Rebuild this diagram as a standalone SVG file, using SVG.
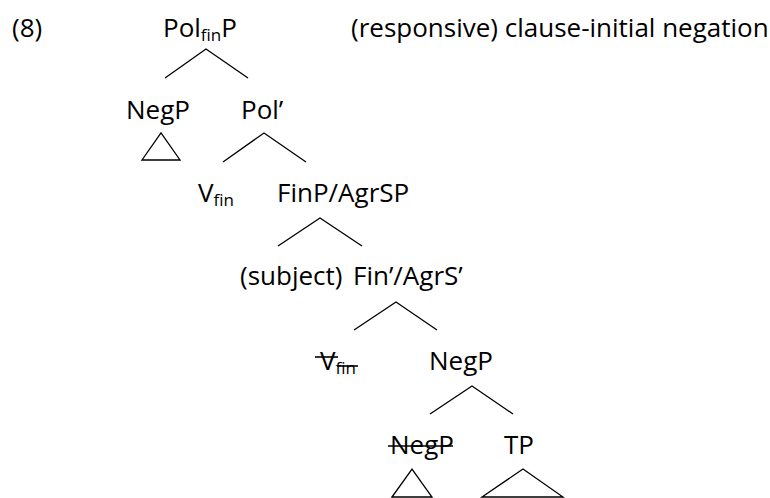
<svg xmlns="http://www.w3.org/2000/svg" width="770" height="498" viewBox="0 0 770 498">
<style>
text{font-family:"Open Sans","Liberation Sans",sans-serif;font-size:26px;fill:#000}
.sub{font-size:17px}
.ln{stroke:#000;stroke-width:1.3;fill:none}
.st{stroke:#000;stroke-width:1.6}
</style>
<rect width="770" height="498" fill="#fff"/>
<g id="label"><text x="12" y="37">(8)</text></g>
<g id="caption"><text x="351" y="37">(responsive) clause-initial negation</text></g>
<g id="polfinP"><text x="163" y="37">Pol<tspan class="sub" dy="4">fin</tspan><tspan dy="-4">P</tspan></text></g>
<g id="negP1"><text x="126" y="119">NegP</text></g>
<g id="polBar"><text x="241" y="119">Pol’</text></g>
<g id="vfin1"><text x="198" y="202">V<tspan class="sub" dy="4">fin</tspan></text></g>
<g id="finP"><text x="277" y="202">FinP/AgrSP</text></g>
<g id="subject"><text x="240" y="285">(subject)</text></g>
<g id="finBar"><text x="353" y="285">Fin’/AgrS’</text></g>
<g id="vfin2"><text x="320" y="370">V<tspan class="sub" dy="4">fin</tspan></text>
<line class="st" x1="315" y1="357" x2="338" y2="357"/><line class="st" x1="337" y1="366" x2="358" y2="366"/></g>
<g id="negP2"><text x="429" y="370">NegP</text></g>
<g id="negP3"><text x="390" y="454">NegP</text><line class="st" x1="388" y1="446" x2="453" y2="446"/></g>
<g id="tp"><text x="504" y="454">TP</text></g>
<g id="connectors">
<polyline class="ln" points="165,78 206,49 248,78"/>
<polygon class="ln" points="142,160 161,133 180,160"/>
<polyline class="ln" points="223,162 264,133 306,162"/>
<polyline class="ln" points="278,246 320,218 362,246"/>
<polyline class="ln" points="354,330 396,302 437,330"/>
<polyline class="ln" points="430,414 472,386 513,414"/>
<polygon class="ln" points="392,497 412,469 432,497"/>
<polygon class="ln" points="482,497 523,469 563,497"/>
</g>
</svg>
